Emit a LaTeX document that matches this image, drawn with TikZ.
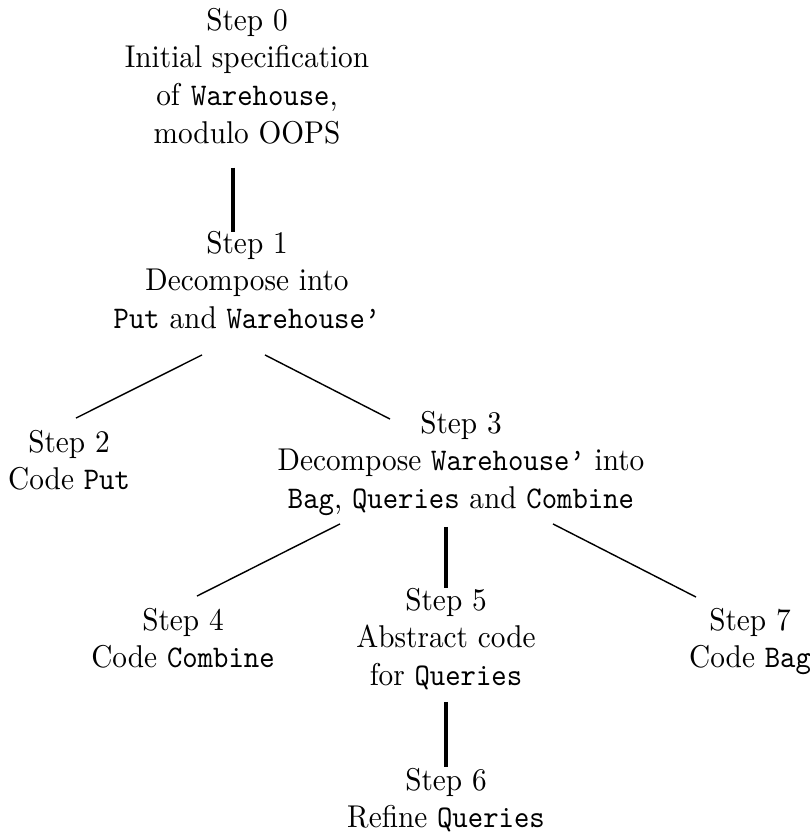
\documentclass[tikz,border=0pt]{standalone}
\usepackage{graphicx}
\usetikzlibrary{calc}
\newcommand{\blk}[1]{\scalebox{0.93}[1]{\setlength{\tabcolsep}{0pt}\begin{tabular}[t]{c}#1\end{tabular}}}
\newcommand{\wh}{\texttt{Warehouse\textquoteright}}
\begin{document}
\begin{tikzpicture}[x=0.3175pt,y=-0.3175pt,
  lbl/.style={inner sep=0pt, outer sep=0pt, anchor=base},
  diagline/.style={line width=0.45pt},
  vline/.style={line width=1.1pt}]
\useasboundingbox (0,0) rectangle (810,835);

\node[lbl] (s0) at (247,30) {\blk{Step 0\\Initial specification\\of \texttt{Warehouse},\\modulo OOPS}};
\node[lbl] (s1) at (247,253) {\blk{Step 1\\Decompose into\\\texttt{Put} and \wh}};
\node[lbl] (s2) at (69,452) {\blk{Step 2\\Code \texttt{Put}}};
\node[lbl] (s3) at (461,433) {\blk{Step 3\\Decompose \wh{} into\\\texttt{Bag}, \texttt{Queries} and \texttt{Combine}}};
\node[lbl] (s4) at (183,630) {\blk{Step 4\\Code \texttt{Combine}}};
\node[lbl] (s5) at (446,610) {\blk{Step 5\\Abstract code\\for \texttt{Queries}}};
\node[lbl] (s6) at (446,790) {\blk{Step 6\\Refine \texttt{Queries}}};
\node[lbl] (s7) at (750,630) {\blk{Step 7\\Code \texttt{Bag}}};

\draw[vline] ($(s0.south)+(-14,13)$) -- ($(s1.north)+(-14,5.5)$);
\draw[diagline] ($(s1.south)+(-45,15)$) -- ($(s2.north)+(7,-7.5)$);
\draw[diagline] ($(s1.south)+(18,15)$) -- ($(s3.north)+(-71,12.5)$);
\draw[diagline] ($(s3.south)+(-121,4)$) -- ($(s4.north)+(14,-7.5)$);
\draw[vline] ($(s3.south)+(-15,7)$) -- ($(s5.north)+(0,4.5)$);
\draw[diagline] ($(s3.south)+(92,4)$) -- ($(s7.north)+(-54,-6.5)$);
\draw[vline] ($(s5.south)+(0,5)$) -- ($(s6.north)+(0,3.5)$);
\end{tikzpicture}
\end{document}
